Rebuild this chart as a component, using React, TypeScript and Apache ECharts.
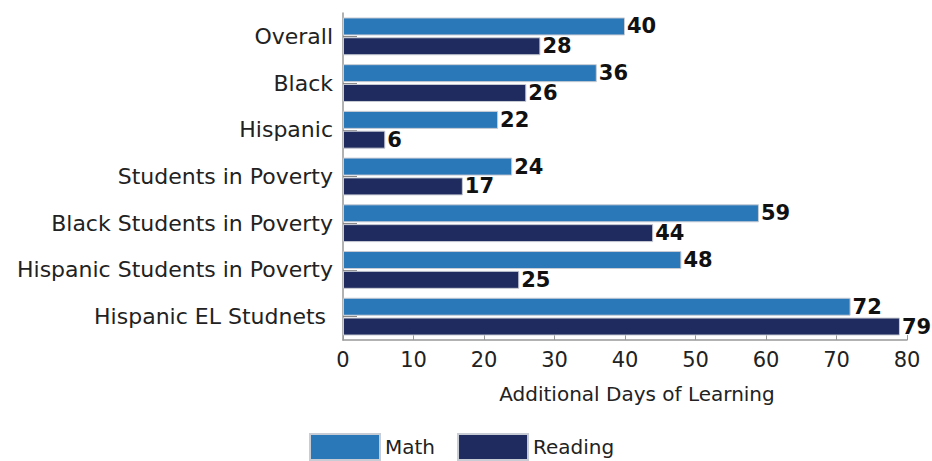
import React, { useEffect, useRef } from "react";
import * as echarts from "echarts";

const categories = [
  "Overall",
  "Black",
  "Hispanic",
  "Students in Poverty",
  "Black Students in Poverty",
  "Hispanic Students in Poverty",
  "Hispanic EL Studnets ",
];
const mathValues = [40, 36, 22, 24, 59, 48, 72];
const readingValues = [28, 26, 6, 17, 44, 25, 79];
const xTicks = { min: 0, max: 80, interval: 10 };

const FONT = "DejaVu Sans";

export default function App() {
  const ref = useRef<HTMLDivElement>(null);
  useEffect(() => {
    const chart = echarts.init(ref.current!, null, { renderer: "svg" });
    const labelStyle = {
      show: true,
      position: "right",
      distance: 2,
      fontFamily: FONT,
      fontWeight: "bold",
      fontSize: 21,
      color: "#111",
    };
    chart.setOption({
      animation: false,
      textStyle: { fontFamily: FONT },
      grid: { left: 343, right: 25, top: 13, bottom: 121, containLabel: false },
      legend: {
        bottom: 0,
        left: 309,
        padding: 0,
        itemWidth: 70,
        itemHeight: 26,
        itemGap: 22,
        icon: "rect",
        textStyle: { fontFamily: FONT, fontSize: 20, color: "#222" },
        data: ["Math", "Reading"],
      },
      xAxis: {
        type: "value",
        min: xTicks.min,
        max: xTicks.max,
        interval: xTicks.interval,
        name: "Additional Days of Learning",
        nameLocation: "middle",
        nameGap: 44,
        nameTextStyle: { fontFamily: FONT, fontSize: 20, color: "#222", padding: [0, 0, 0, 24] },
        axisLine: { show: true, lineStyle: { color: "#999", width: 1.5 } },
        axisTick: { show: true, inside: true, length: 5, lineStyle: { color: "#999" } },
        axisLabel: { fontFamily: FONT, fontSize: 21, color: "#222", margin: 9 },
        splitLine: { show: false },
      },
      yAxis: {
        type: "category",
        inverse: true,
        data: categories,
        axisLine: { show: true, lineStyle: { color: "#999", width: 1.5 } },
        axisTick: { show: true, inside: true, alignWithLabel: true, length: 14, lineStyle: { color: "#888" } },
        axisLabel: { fontFamily: FONT, fontSize: 22, color: "#222", margin: 10 },
      },
      series: [
        {
          name: "Math",
          type: "bar",
          data: mathValues,
          barWidth: 18,
          barGap: "10%",
          itemStyle: { color: "#2b78b9", borderColor: "#c8ccd4", borderWidth: 1 },
          label: labelStyle,
        },
        {
          name: "Reading",
          type: "bar",
          data: readingValues,
          barWidth: 18,
          barGap: "10%",
          itemStyle: { color: "#1f2b5e", borderColor: "#c8ccd4", borderWidth: 1 },
          label: labelStyle,
        },
      ],
    });
    return () => chart.dispose();
  }, []);
  return <div ref={ref} style={{ width: 932, height: 461, position: "absolute", left: 0, top: 0 }} />;
}
